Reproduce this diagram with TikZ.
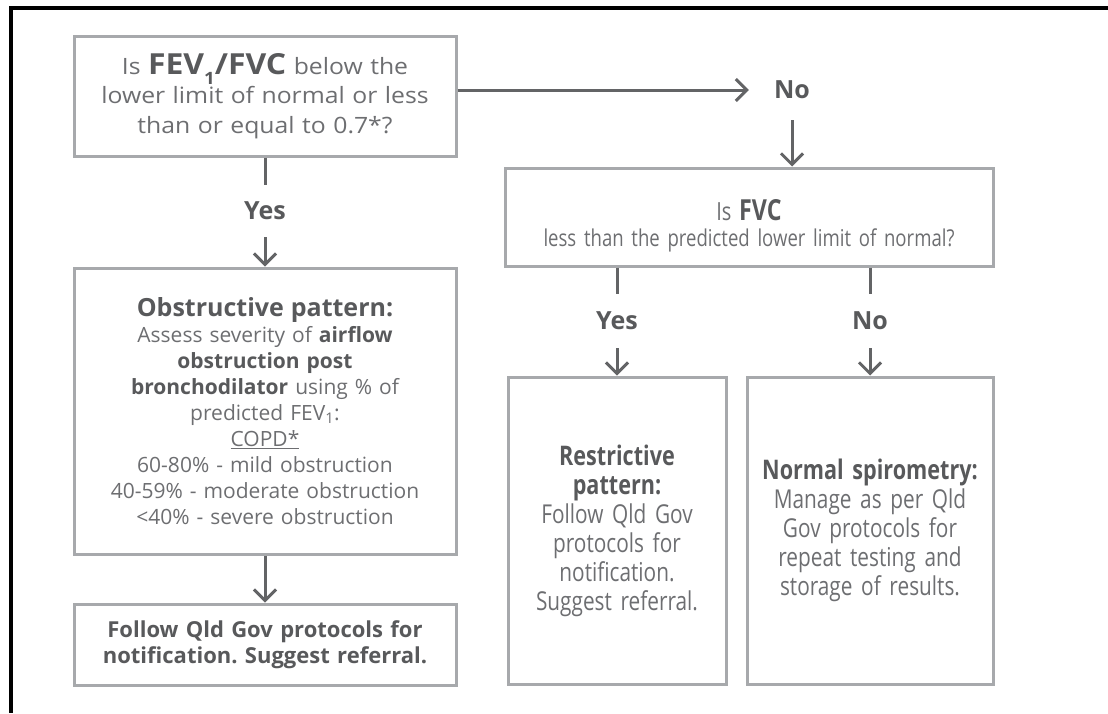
\documentclass[tikz,border=0pt]{standalone}
\usepackage{fontspec}
\setmainfont{Open Sans}
\newfontfamily\wide{Open Sans}[FakeStretch=1.1]
\newfontfamily\condA{Open Sans}[FakeStretch=0.8]
\usetikzlibrary{positioning,arrows.meta}
\definecolor{boxgray}{HTML}{A7A9AC}
\definecolor{linegray}{HTML}{636466}
\definecolor{txtgray}{HTML}{6D6E71}
\definecolor{boldgray}{HTML}{58595B}
\newcommand{\hl}[1]{{\bfseries\color{boldgray}#1}}
\frenchspacing
\tikzset{
BX/.style={draw=boxgray, line width=3pt, align=center, text=txtgray, inner sep=0pt},
LB/.style={font=\fontsize{25}{30}\selectfont\bfseries, text=boldgray, inner sep=0pt, minimum height=52pt},
AR/.style={draw=linegray, line width=3pt, -{Straight Barb[length=11pt,width=22pt]}},
LN/.style={draw=linegray, line width=3pt}
}
\begin{document}
\begin{tikzpicture}[x=1pt,y=-1pt]
\useasboundingbox (0,0) rectangle (1108,713);
\draw[line width=4pt] (1108,8) -- (11,8) -- (11,713);

\node[BX, minimum width=382pt, minimum height=120pt, text width=370pt, font=\wide\fontsize{22.5}{29.5}\selectfont] (q1) at (265,96)
  {Is {\fontsize{29}{29}\selectfont\hl{FEV\raisebox{-10pt}{\fontsize{17}{17}\selectfont 1}/FVC}} below the\\ lower limit of normal or less\\ than or equal to 0.7*?};
\node[BX, minimum width=488pt, minimum height=98pt, text width=470pt, font=\condA\fontsize{23.2}{26}\selectfont] (q2) at (749,217)
  {\mbox{}\\[12pt] {\fontsize{25}{26}\selectfont Is} {\fontsize{29}{26}\selectfont\hl{FVC}}\\ less than the predicted lower limit of normal?};

\node[LB, minimum height=60pt] (no1) at (792,90) {No};
\node[LB] (yes1) at (265,211) {Yes};
\node[LB, minimum height=54pt] (yes2) at (617,321) {Yes};
\node[LB, minimum height=54pt] (no2) at (870,321) {No};

\node[BX, minimum width=382pt, minimum height=286pt, text width=360pt, font=\fontsize{21}{26}\selectfont] (obs) at (265,411)
  {{\fontsize{25}{26}\selectfont\hl{Obstructive pattern:}}\\ Assess severity of \hl{airflow}\\ \hl{obstruction post}\\
   \hl{bronchodilator} using \% of\\ predicted FEV\textsubscript{1}:\\ \underline{COPD*}\\
   60-80\% - mild obstruction\\ 40-59\% - moderate obstruction\\ <40\% - severe obstruction};
\node[BX, minimum width=382pt, minimum height=81pt, text width=370pt, font=\fontsize{22}{26}\selectfont] (fol) at (265,644.5)
  {\hl{Follow Qld Gov protocols for}\\ \hl{notification. Suggest referral.}};
\node[BX, minimum width=218pt, minimum height=307pt, text width=210pt, font=\condA\fontsize{26}{29}\selectfont] (res) at (617,530.5)
  {\hl{\fontsize{27}{29}\selectfont Restrictive}\\ \hl{\fontsize{27}{29}\selectfont pattern:}\\ Follow Qld Gov\\ protocols for\\ notification.\\ Suggest referral.};
\node[BX, minimum width=246pt, minimum height=307pt, text width=238pt, font=\condA\fontsize{26}{29}\selectfont] (nor) at (870,530.5)
  {\hl{\fontsize{27}{29}\selectfont Normal spirometry:}\\ Manage as per Qld\\ Gov protocols for\\ repeat testing and\\ storage of results.};

\draw[AR] (q1.east |- no1) -- ([xshift=-25pt]no1.west);
\draw[AR] (no1.south) -- (no1.south |- q2.north);
\draw[LN] (q1.south) -- (yes1.north);
\draw[AR] (yes1.south) -- (obs.north);
\draw[AR] (obs.south) -- (fol.north);
\draw[LN] (q2.south -| yes2) -- (yes2.north);
\draw[AR] (yes2.south) -- (res.north);
\draw[LN] (q2.south -| no2) -- (no2.north);
\draw[AR] (no2.south) -- (nor.north);
\end{tikzpicture}
\end{document}
